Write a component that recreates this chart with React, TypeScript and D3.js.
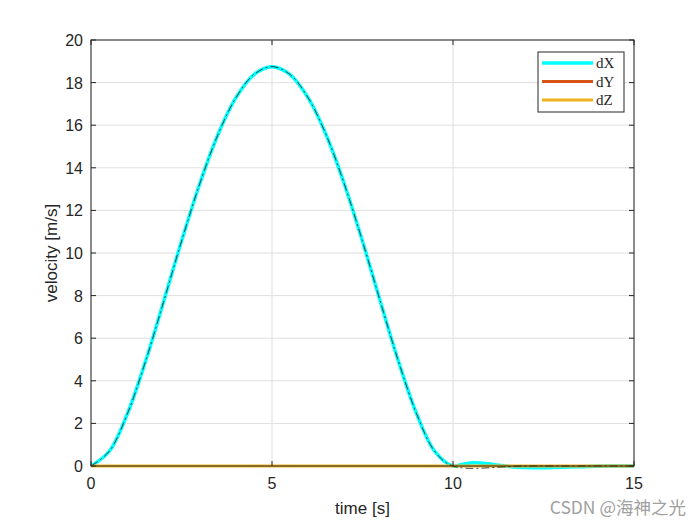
import React from "react";
import * as d3 from "d3";

const timeX = [0, 0.5, 1, 1.5, 2, 2.5, 3, 3.5, 4, 4.5, 5, 5.5, 6, 6.5, 7, 7.5, 8, 8.5, 9, 9.5, 10, 10.3, 10.6, 10.9, 11.2, 11.6, 12, 12.4, 12.8, 13.2, 13.6, 14, 14.5, 15];
const dXValues = [0, 0.68, 2.43, 4.88, 7.68, 10.55, 13.23, 15.53, 17.28, 18.38, 18.75, 18.38, 17.28, 15.53, 13.23, 10.55, 7.68, 4.88, 2.43, 0.68, 0, 0.1, 0.15, 0.12, 0.05, -0.03, -0.07, -0.08, -0.07, -0.05, -0.03, -0.01, 0, 0];
const refTime = [0, 0.5, 1, 1.5, 2, 2.5, 3, 3.5, 4, 4.5, 5, 5.5, 6, 6.5, 7, 7.5, 8, 8.5, 9, 9.5, 10, 12, 15];
const refValues = [0, 0.68, 2.43, 4.88, 7.68, 10.55, 13.23, 15.53, 17.28, 18.38, 18.75, 18.38, 17.28, 15.53, 13.23, 10.55, 7.68, 4.88, 2.43, 0.68, 0, 0, 0];
const flatTime = [0, 15];
const dYValues = [0, 0];
const dZValues = [0, 0];
const xTicks = [0, 5, 10, 15];
const yTicks = [0, 2, 4, 6, 8, 10, 12, 14, 16, 18, 20];
const legendLabels = ["dX", "dY", "dZ"];
const legendColors = ["#00FFFF", "#D95319", "#EDB120"];

export default function App() {
  const W = 700, H = 525;
  const L = 91, R = 634, T = 40, B = 466;
  const x = d3.scaleLinear().domain([0, 15]).range([L, R]);
  const y = d3.scaleLinear().domain([0, 20]).range([B, T]);
  const line = (xs: number[], ys: number[]) =>
    d3.line<number>().x((_, i) => x(xs[i])).y((d) => y(d)).curve(d3.curveCatmullRom)(ys) || "";
  const font = "'Liberation Sans', Arial, sans-serif";
  return (
    <svg width={W} height={H} style={{ position: "absolute", left: 0, top: 0 }}>
      <rect x={0} y={0} width={W} height={H} fill="#fff" />
      <rect x={L} y={T} width={R - L} height={B - T} fill="#fff" />
      {xTicks.map((t) => (
        <line key={"gx" + t} x1={x(t)} x2={x(t)} y1={T} y2={B} stroke="#dfdfdf" strokeWidth={1} />
      ))}
      {yTicks.map((t) => (
        <line key={"gy" + t} x1={L} x2={R} y1={y(t)} y2={y(t)} stroke="#dfdfdf" strokeWidth={1} />
      ))}
      <path d={line(timeX, dXValues)} fill="none" stroke="#00FFFF" strokeWidth={3.5} />
      <path d={line(flatTime, dYValues)} fill="none" stroke="#D95319" strokeWidth={2} />
      <path d={line(flatTime, dZValues)} fill="none" stroke="#EDB120" strokeWidth={3} />
      <path d={line(refTime, refValues)} fill="none" stroke="#000" strokeWidth={0.7} strokeDasharray="8 3 2 3" />
      <rect x={L} y={T} width={R - L} height={B - T} fill="none" stroke="#262626" strokeWidth={1} />
      {xTicks.map((t) => (
        <g key={"tx" + t}>
          <line x1={x(t)} x2={x(t)} y1={B} y2={B - 5} stroke="#262626" />
          <line x1={x(t)} x2={x(t)} y1={T} y2={T + 5} stroke="#262626" />
          <text x={x(t)} y={B + 23} textAnchor="middle" fontFamily={font} fontSize={16} fill="#262626">{t}</text>
        </g>
      ))}
      {yTicks.map((t) => (
        <g key={"ty" + t}>
          <line x1={L} x2={L + 5} y1={y(t)} y2={y(t)} stroke="#262626" />
          <line x1={R} x2={R - 5} y1={y(t)} y2={y(t)} stroke="#262626" />
          <text x={L - 8} y={y(t) + 6} textAnchor="end" fontFamily={font} fontSize={16} fill="#262626">{t}</text>
        </g>
      ))}
      <text x={(L + R) / 2} y={514} textAnchor="middle" fontFamily={font} fontSize={17} fill="#262626">time [s]</text>
      <text transform={`translate(57, ${(T + B) / 2}) rotate(-90)`} textAnchor="middle" fontFamily={font} fontSize={17} fill="#262626">velocity [m/s]</text>
      <rect x={538} y={52} width={86} height={60} fill="#fff" stroke="#262626" strokeWidth={1} />
      {legendLabels.map((lab, i) => (
        <g key={lab}>
          <line x1={542} x2={593} y1={63 + i * 18.5} y2={63 + i * 18.5} stroke={legendColors[i]} strokeWidth={i === 0 ? 3.5 : 3} />
          <text x={596} y={68 + i * 18.5} fontFamily="'Liberation Serif', 'Times New Roman', serif" fontSize={15} fill="#262626">{lab}</text>
        </g>
      ))}
      <text x={686} y={514} textAnchor="end" fontFamily="'Noto Sans CJK SC', 'Liberation Sans', sans-serif" fontSize={17.5} fill="#a0a0a0">CSDN @海神之光</text>
    </svg>
  );
}
